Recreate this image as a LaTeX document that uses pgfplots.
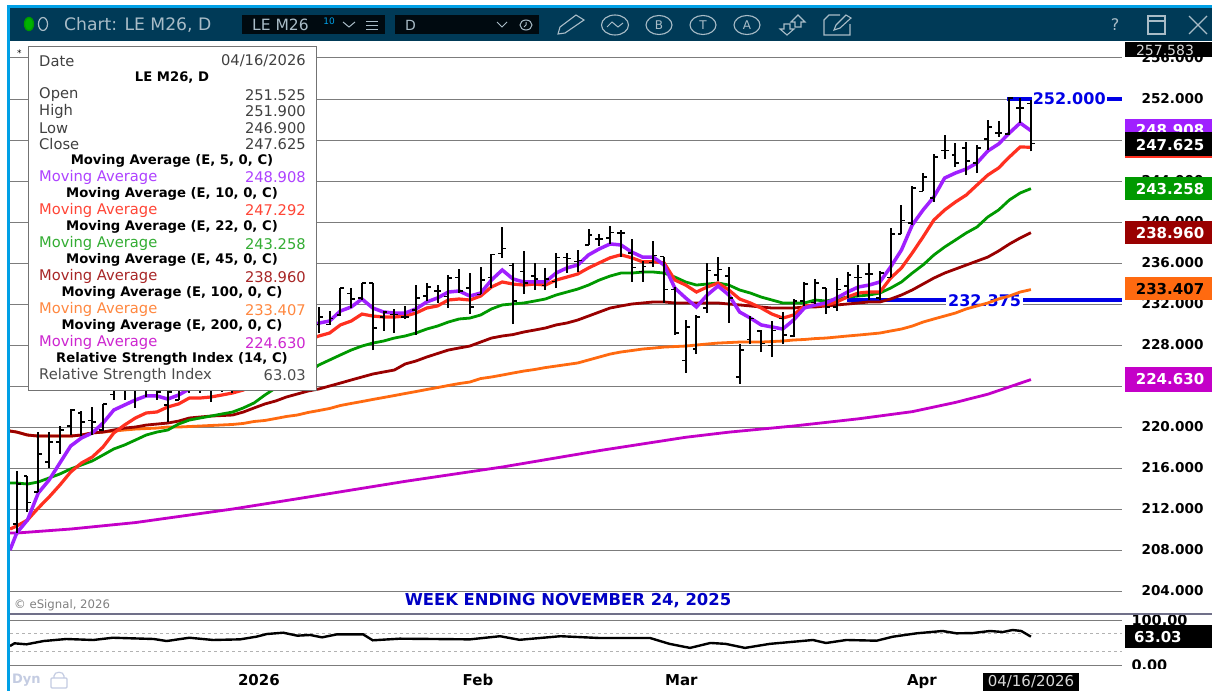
\documentclass[border=0pt]{standalone}
\usepackage{fontspec}
\setmainfont{DejaVu Sans}
\usepackage{pgfplots}
\usepackage{pgfplotstable}
\pgfplotsset{compat=1.18}
\definecolor{band}{HTML}{003A57}
\definecolor{bluebar}{HTML}{00A0E6}
\definecolor{iconc}{HTML}{A9BCC7}
\definecolor{mafive}{HTML}{A020FF}
\definecolor{maten}{HTML}{FF3020}
\definecolor{matw}{HTML}{009900}
\definecolor{mafort}{HTML}{990000}
\definecolor{mahun}{HTML}{FF6A10}
\definecolor{matwo}{HTML}{C400C8}
\definecolor{gridc}{HTML}{7C7C7C}
\definecolor{lineblue}{HTML}{0000E6}
\definecolor{dync}{HTML}{C4CCE2}
\pgfplotstableread{
i o h l c
0 210.54 215.74 209.66 214.44
1 215.22 215.22 211.71 212.68
2 213.66 219.51 213.66 217.37
3 216.59 219.51 216.00 218.54
4 218.54 220.10 217.37 219.71
5 220.10 221.76 219.22 221.66
6 221.37 221.56 219.12 220.49
7 220.68 221.95 219.22 220.49
8 219.71 222.25 219.61 222.25
9 223.13 225.07 222.64 224.59
10 224.10 224.78 222.64 224.20
11 223.61 224.98 221.86 224.39
12 224.39 225.37 222.93 224.98
13 224.59 225.07 222.64 223.42
14 222.15 224.10 220.49 223.42
15 222.64 225.37 222.64 224.78
16 224.10 225.76 223.32 225.37
17 225.07 225.96 223.32 224.10
18 223.61 225.56 222.44 225.07
19 224.59 226.54 223.42 226.05
20 225.56 227.03 223.32 226.54
21 226.05 228.00 224.59 227.51
22 227.31 228.50 225.37 228.00
23 228.00 228.99 226.05 228.50
24 228.50 229.48 226.54 228.99
25 228.99 230.26 227.31 229.66
26 229.48 230.86 228.00 230.26
27 230.46 231.44 228.99 230.95
28 229.96 231.71 229.17 230.73
29 229.96 231.32 229.96 230.63
30 230.93 233.56 230.83 233.56
31 233.07 233.56 231.61 232.49
32 232.59 234.05 232.39 234.05
33 234.05 234.05 227.51 229.66
34 230.73 231.32 229.37 231.22
35 231.02 231.52 229.17 231.02
36 230.73 231.82 230.54 230.73
37 231.42 233.86 228.98 232.59
38 232.78 234.05 232.29 233.66
39 233.27 233.86 232.10 233.27
40 232.69 234.83 231.61 234.54
41 234.63 235.42 233.07 233.27
42 233.56 235.03 231.02 231.71
43 232.97 235.62 232.97 234.34
44 234.63 236.90 233.56 236.80
45 236.90 239.51 236.51 237.39
46 235.73 236.02 230.05 232.29
47 235.13 237.17 232.97 234.05
48 234.73 236.02 233.37 234.44
49 233.85 235.53 233.37 234.44
50 234.24 236.98 233.56 236.51
51 236.51 236.98 235.03 236.41
52 236.12 237.27 235.13 236.22
53 237.76 239.32 237.76 238.73
54 238.34 238.83 237.66 238.34
55 238.44 239.61 237.85 239.02
56 238.93 239.22 236.59 238.93
57 236.98 238.34 234.15 235.53
58 235.13 236.22 234.15 235.62
59 236.02 238.15 235.62 236.70
60 236.60 236.60 232.10 233.46
61 233.46 233.66 228.98 229.17
62 226.45 230.44 225.28 229.76
63 227.61 230.93 227.12 230.73
64 231.61 236.02 231.12 235.24
65 234.83 236.60 234.24 235.33
66 234.73 235.62 230.15 232.59
67 224.88 228.09 224.20 227.51
68 228.57 230.83 228.09 230.63
69 229.37 229.46 227.31 228.19
70 227.92 230.34 226.83 229.46
71 230.63 231.22 228.09 228.98
72 228.88 232.49 228.78 232.29
73 232.29 234.15 231.82 233.95
74 232.11 234.44 232.01 234.05
75 233.56 233.56 231.02 231.71
76 231.71 234.54 231.31 233.46
77 233.76 235.13 232.59 234.83
78 234.63 235.82 232.69 234.63
79 234.93 236.02 232.39 234.93
80 232.59 235.24 232.39 235.03
81 234.63 239.41 234.63 238.83
82 238.83 241.66 238.83 240.19
83 239.90 243.51 239.71 243.32
84 243.02 244.78 243.02 244.39
85 242.34 246.63 241.95 246.34
86 247.02 248.49 246.15 247.02
87 246.54 247.71 245.37 245.76
88 247.22 247.80 244.58 245.95
89 245.76 247.51 244.78 247.22
90 248.10 249.95 247.02 249.27
91 248.68 249.85 248.29 248.68
92 248.59 252.20 248.49 252.10
93 251.12 252.10 249.66 251.12
94 251.525 251.90 246.90 247.625
}\ohlc
\pgfplotstableread{
i m5 m10 m22 m45 m100
-0.62 208.00 210.05 214.54 219.61 219.61
0 209.66 210.34 214.54 219.51 219.51
1 210.93 210.93 214.44 219.22 219.22
2 213.56 212.10 214.64 219.12 219.12
3 214.83 213.17 215.03 219.12 219.12
4 216.49 214.34 215.42 219.12 219.12
5 218.15 215.61 215.91 219.12 219.12
6 218.93 216.49 216.30 219.22 219.22
7 219.42 217.07 216.69 219.42 219.42
8 220.39 218.05 217.27 219.51 219.51
9 221.66 219.42 217.86 219.71 219.61
10 222.15 220.20 218.25 219.90 219.71
11 222.64 220.88 218.73 220.00 219.80
12 223.03 221.37 219.22 220.19 219.85
13 223.03 221.47 219.51 220.29 219.90
14 222.73 221.96 219.71 220.39 220.00
15 223.12 222.25 220.29 220.58 220.00
16 223.71 222.83 220.68 220.88 220.05
17 224.30 222.83 220.88 220.98 220.10
18 224.78 222.93 221.07 221.07 220.15
19 225.37 223.12 221.27 221.12 220.20
20 225.95 223.32 221.46 221.17 220.25
21 226.54 223.61 221.86 221.46 220.35
22 227.13 224.10 222.35 221.86 220.54
23 227.71 224.59 223.12 222.25 220.64
24 228.30 225.37 223.81 222.54 220.83
25 228.88 226.35 224.30 222.93 221.03
26 229.46 227.32 224.78 223.22 221.17
27 229.85 228.49 225.27 223.51 221.42
28 230.14 228.88 226.05 223.71 221.61
29 230.34 229.17 226.54 224.00 221.81
30 231.32 229.96 227.03 224.29 222.10
31 231.71 230.34 227.51 224.59 222.30
32 232.49 231.02 227.90 224.88 222.49
33 231.61 230.83 228.19 225.17 222.69
34 231.22 230.73 228.39 225.37 222.88
35 231.12 230.73 228.68 225.56 223.07
36 231.12 230.83 228.88 226.15 223.27
37 231.52 231.12 229.17 226.44 223.46
38 232.20 231.61 229.56 226.83 223.66
39 232.59 231.81 229.85 227.17 223.85
40 233.17 232.39 230.24 227.51 224.05
41 233.27 232.49 230.54 227.71 224.24
42 232.78 232.39 230.63 227.90 224.39
43 233.07 232.78 230.93 228.29 224.73
44 234.34 233.66 231.52 228.68 224.88
45 235.32 234.15 231.91 228.88 225.07
46 234.44 233.95 232.01 229.02 225.27
47 234.15 233.85 232.10 229.27 225.46
48 234.15 233.95 232.29 229.46 225.61
49 234.15 233.85 232.49 229.66 225.80
50 235.03 234.34 232.88 229.96 225.95
51 235.52 234.63 233.17 230.15 226.10
52 235.81 234.93 233.46 230.44 226.25
53 236.79 235.52 233.85 230.83 226.54
54 237.38 236.02 234.34 231.22 226.83
55 237.86 236.51 234.73 231.61 227.12
56 237.76 236.80 235.02 231.81 227.32
57 237.07 236.51 235.02 232.00 227.46
58 236.58 236.12 235.12 232.10 227.61
59 236.58 236.12 235.12 232.20 227.70
60 235.80 236.02 235.02 232.20 227.80
61 233.55 234.34 234.63 232.10 227.85
62 232.59 233.85 234.15 232.10 227.90
63 231.71 233.17 233.85 232.10 228.00
64 232.88 233.66 233.95 232.10 228.10
65 233.76 234.05 234.05 232.10 228.19
66 232.88 233.37 233.85 232.00 228.24
67 231.22 232.49 233.37 231.91 228.29
68 230.63 232.10 233.07 231.81 228.29
69 229.96 231.61 232.68 231.71 228.29
70 229.76 231.02 232.39 231.61 228.34
71 229.56 230.63 232.10 231.61 228.39
72 230.44 230.93 232.10 231.61 228.49
73 231.61 231.81 232.10 231.71 228.54
74 231.91 231.91 232.39 231.71 228.63
75 232.10 231.91 232.29 231.81 228.68
76 232.59 232.20 232.49 231.91 228.78
77 233.17 232.69 232.68 232.00 228.88
78 233.66 233.07 232.78 232.10 228.97
79 233.85 233.17 232.88 232.20 229.07
80 234.15 233.17 233.07 232.20 229.17
81 235.62 234.53 233.56 232.49 229.37
82 237.27 235.52 234.15 232.88 229.56
83 239.71 236.98 235.02 233.37 229.85
84 241.17 238.54 235.81 233.95 230.24
85 242.44 240.19 236.78 234.53 230.54
86 244.29 241.17 237.56 235.02 230.83
87 244.78 241.95 238.24 235.41 231.12
88 245.17 242.63 238.93 235.80 231.52
89 245.76 243.61 239.51 236.19 231.81
90 246.93 244.58 240.49 236.58 232.10
91 247.61 245.27 241.17 237.17 232.49
92 248.68 246.34 242.15 237.85 232.78
93 249.66 247.32 242.83 238.44 233.17
94 248.908 247.292 243.258 238.960 233.407
}\mas
\pgfplotstableread{
i r
-0.62 42.2
-0.2 48.2
0.9 46
2.5 53.3
4.6 57.8
7.1 55.6
8.9 60.6
12.7 57.8
13.9 53.3
16 60.6
18.2 55.6
20.7 57
22.2 62.9
23.2 68.9
24.7 71.8
26 65.2
27.2 66.7
28.3 61.5
29.7 68.2
32.1 68.2
33 54.9
35.5 58.5
37.8 58
42 57
44.8 64
46.6 56
50.4 64
54 60
58.7 60
60.5 47
62.4 38
64.3 49
65.7 47
67.5 38
69.8 47
72.6 53
73.8 55.6
75 48.9
76.9 55.6
79.7 54
81.2 62.9
83.4 70.4
85.8 75.6
87.1 70.4
88.6 71
90.2 75.6
91.4 73.3
92.3 77.8
93.1 75.6
94 63.03
}\rsi
\newcommand{\fs}[1]{\fontsize{#1}{#1}\selectfont}
\begin{document}
\begin{tikzpicture}[line cap=butt]
\useasboundingbox (0,0) rectangle (1212pt,-691pt);
\fill[white] (0,0) rectangle (1212pt,-691pt);
% main price pane
\begin{axis}[
  at={(10pt,-614pt)},anchor=south west,scale only axis,
  width=1112pt,height=572pt,
  xmin=-0.621,xmax=102.44,ymin=201.76,ymax=257.56,
  axis line style={draw=none},
  xtick=\empty,
  ytick={204,208,...,256},
  ymajorgrids,
  grid style={gridc,line width=1pt},
  tick style={draw=none},
  yticklabel pos=right,
  /pgf/number format/assume math mode=true,
  /pgf/number format/fixed,/pgf/number format/fixed zerofill,/pgf/number format/precision=3,
  yticklabel style={font=\fs{13.6}\bfseries,black,anchor=west,xshift=16pt},
  clip=true,
]
\addplot[lineblue,line width=3.5pt] coordinates {(76.97,232.375) (102.44,232.375)}
  node[pos=0.50,fill=white,inner xsep=2pt,inner ysep=0pt,font=\fs{16}\bfseries,text=lineblue] {232.375};
\addplot[lineblue,line width=3.5pt] coordinates {(91.8,252.0) (102.44,252.0)}
  node[pos=0.54,fill=white,inner xsep=1pt,inner ysep=0pt,font=\fs{16}\bfseries,text=lineblue] {252.000};
\addplot[mahun,line width=2.8pt] table[x=i,y=m100] {\mas};
\addplot[matwo,line width=2.8pt] coordinates {(-0.62,209.66) (0,209.66) (5,210.05) (11,210.68) (20,212.0) (26,213.0) (36,214.7) (45,216.1) (54,217.7) (62,219.0) (66,219.5) (72,220.1) (78,220.8) (83,221.5) (87,222.4) (90,223.2) (94,224.63)};
\addplot[mafort,line width=2.8pt] table[x=i,y=m45] {\mas};
\addplot[matw,line width=2.8pt] table[x=i,y=m22] {\mas};
\addplot[maten,line width=3.2pt] table[x=i,y=m10] {\mas};
\addplot[mafive,line width=3.5pt] table[x=i,y=m5] {\mas};
% OHLC bars: high-low stems, open ticks left, close ticks right
\addplot[draw=none,mark=none,error bars/.cd,y dir=plus,y explicit,error mark=none,error bar style={black,solid,line width=2pt}]
  table[x=i,y=l,y error plus expr=\thisrow{h}-\thisrow{l}] {\ohlc};
\addplot[draw=none,mark=none,error bars/.cd,x dir=minus,x explicit,error mark=none,error bar style={black,solid,line width=1.1pt}]
  table[x=i,y=o,x error minus expr=0.36] {\ohlc};
\addplot[draw=none,mark=none,error bars/.cd,x dir=plus,x explicit,error mark=none,error bar style={black,solid,line width=1.1pt}]
  table[x=i,y=c,x error plus expr=0.36] {\ohlc};
\end{axis}
% RSI pane
\begin{axis}[
  at={(10pt,-665pt)},anchor=south west,scale only axis,
  width=1112pt,height=45pt,
  xmin=-0.621,xmax=102.44,ymin=0,ymax=100,
  axis line style={draw=none},
  xtick={22.45,42.75,61.6,83.9},
  xticklabels={2026,Feb,Mar,Apr},
  ytick={0,100},
  ymajorgrids,
  grid style={gridc,line width=1pt},
  tick style={draw=none},
  yticklabel pos=right,
  /pgf/number format/assume math mode=true,
  /pgf/number format/fixed,/pgf/number format/fixed zerofill,/pgf/number format/precision=2,
  yticklabel style={font=\fs{14.5}\bfseries,black,anchor=west,xshift=6pt},
  xticklabel style={font=\fs{15}\bfseries,black,yshift=-6pt},
  clip=false,
]
\addplot[gray!60,dashed,line width=1pt,forget plot] coordinates {(-0.621,70) (102.44,70)};
\addplot[gray!60,dashed,line width=1pt,forget plot] coordinates {(-0.621,30) (102.44,30)};
\addplot[black,line width=2.4pt] table[x=i,y=r] {\rsi};
\end{axis}
% frame and overlays in image pixels
\begin{scope}[x=1pt,y=-1pt]
\fill[white] (1124,669) rectangle (1212,691);
\fill[bluebar] (7,5) rectangle (1212,8);
\fill[bluebar] (7,5) rectangle (10,691);
\fill[band] (10,8) rectangle (1212,41);
\fill[gridc!90!blue] (10,613) rectangle (1212,615);
% header
\draw[green!60!black,fill=green!70!black,line width=1.4pt] (29,24) ellipse (4.5 and 6.5);
\draw[iconc,line width=1.2pt] (43,24) ellipse (4.5 and 6.5);
\node[anchor=west,iconc,font=\fs{17.2},inner sep=0] at (64,24.5) {Chart: LE M26, D};
\fill[black!70!band!60!black] (242,15) rectangle (385,34);
\node[anchor=west,iconc,font=\fs{15.5},inner sep=0] at (252,25) {LE M26};
\node[anchor=center,bluebar,font=\fs{9},inner sep=0] at (329,21) {10};
\draw[iconc,line width=1pt] (343,22)--(349,27)--(355,22);
\draw[iconc,line width=1pt] (366,21)--(378,21) (366,25)--(378,25) (366,29)--(378,29);
\fill[black!70!band!60!black] (395,15) rectangle (539,34);
\node[anchor=west,iconc,font=\fs{14},inner sep=0] at (405,25) {D};
\draw[iconc,line width=1pt] (497,22)--(502,27)--(507,22);
\draw[iconc,line width=1pt] (526,25) ellipse (6 and 5);
\draw[iconc,line width=1pt] (526,22)--(526,25)--(524,27);
\draw[iconc,line width=1.1pt] (558,34)--(560,27)--(576,15)--(584,20)--(565,33)--cycle;
\draw[iconc,line width=1.1pt] (615,25) ellipse (13.5 and 10);
\draw[iconc,line width=1pt] (607,27)--(612,22)--(618,27)--(623,23);
\foreach \xx/\tl in {659/B,703/T,747/A}{
  \draw[iconc,line width=1.1pt] (\xx,25) ellipse (13 and 9.5);
  \node[iconc,font=\fs{12},inner sep=0] at (\xx,25) {\tl};
}
\draw[iconc,line width=1.1pt] (791,22)--(798,15)--(805,22)--(801,22)--(801,27)--(795,27)--(795,22)--cycle;
\draw[iconc,line width=1.1pt] (780,29)--(787,35)--(794,29)--(790,29)--(790,24)--(784,24)--(784,29)--cycle;
\draw[iconc,line width=1.1pt] (850,24)--(850,35)--(824,35)--(824,20)--(829,15)--(840,15);
\draw[iconc,line width=1.1pt] (834,30)--(836,25)--(846,15)--(851,18)--(840,28)--cycle;
\node[iconc,font=\fs{16},inner sep=0] at (1115,25) {?};
\draw[iconc,line width=1.2pt] (1148,16) rectangle (1165,34);
\draw[iconc,line width=1.2pt] (1148,21)--(1165,21);
\draw[iconc,line width=1.2pt] (1189,16)--(1207,34) (1207,16)--(1189,34);
% tooltip
\fill[gray!50] (29,47) rectangle (317,391);
\draw[gray!90!black,fill=white,line width=1pt] (28,46) rectangle (316,390);
\node[anchor=west,font=\fs{9},inner sep=0] at (17,53) {*};
\foreach \yy/\lt/\rt/\cc in {
 61/Date/{04/16/2026}/black!75,
 95/Open/251.525/black!75,
 111.5/High/251.900/black!75,
 128/Low/246.900/black!75,
 144.5/Close/247.625/black!75,
 177.6/Moving Average/248.908/mafive!85!white,
 210.6/Moving Average/247.292/maten!90!white,
 243.7/Moving Average/243.258/matw!80!white,
 276.8/Moving Average/238.960/mafort!85!white,
 309.8/Moving Average/233.407/mahun!80!white,
 342.9/Moving Average/224.630/matwo!85!white,
 375/Relative Strength Index/63.03/black!70}{
 \node[anchor=west,text=\cc,font=\fs{14.7},inner sep=0] at (39,\yy) {\lt};
 \node[anchor=east,text=\cc,font=\fs{14.7},inner sep=0] at (306,\yy) {\rt};
}
\foreach \yy/\lt in {
 78/{LE M26, D},
 161/{Moving Average (E, 5, 0, C)},
 194/{Moving Average (E, 10, 0, C)},
 227/{Moving Average (E, 22, 0, C)},
 260/{Moving Average (E, 45, 0, C)},
 293/{Moving Average (E, 100, 0, C)},
 326/{Moving Average (E, 200, 0, C)},
 358.5/{Relative Strength Index (14, C)}}{
 \node[font=\fs{13.2}\bfseries,inner sep=0] at (172,\yy) {\lt};
}
% value tags
\fill[black] (1125,42) rectangle (1212,57);
\node[white!85!black,font=\fs{14},inner sep=0] at (1165,50) {257.583};
\fill[mafive] (1125,119) rectangle (1212,133);
\node[white,font=\fs{15}\bfseries,inner sep=0] at (1170,130) {248.908};
\fill[maten] (1125,155) rectangle (1212,158);
\fill[black] (1125,132) rectangle (1212,156);
\node[white,font=\fs{15}\bfseries,inner sep=0] at (1170,145) {247.625};
\fill[matw] (1125,177) rectangle (1212,200);
\node[white,font=\fs{15}\bfseries,inner sep=0] at (1170,189) {243.258};
\fill[mafort] (1125,221) rectangle (1212,244);
\node[white,font=\fs{15}\bfseries,inner sep=0] at (1170,233) {238.960};
\fill[mahun] (1125,277) rectangle (1212,300);
\node[black,font=\fs{15}\bfseries,inner sep=0] at (1170,289) {233.407};
\fill[matwo] (1125,367) rectangle (1212,392);
\node[white,font=\fs{15}\bfseries,inner sep=0] at (1170,379) {224.630};
\fill[black] (1125,625) rectangle (1212,648);
\node[white,font=\fs{15}\bfseries,inner sep=0,anchor=west] at (1134,637) {63.03};
\fill[black] (983,673) rectangle (1079,691);
\node[white!85!black,font=\fs{15},inner sep=0] at (1031,682) {04/16/2026};
% notes
\node[lineblue!85!black,font=\fs{16.4}\bfseries,inner sep=0] at (568,601) {WEEK ENDING NOVEMBER 24, 2025};
\node[anchor=west,gray,font=\fs{11.7},inner sep=0] at (14,605.5) {\copyright{} eSignal, 2026};
\node[anchor=west,text=dync,font=\fs{13}\bfseries,inner sep=0] at (12,680) {Dyn};
\draw[dync,line width=1.2pt,rounded corners=1pt] (51,678) rectangle (67,688);
\draw[dync,line width=1.2pt] (54,678)--(54,676) .. controls (54,671) and (64,671) .. (64,676)--(64,678);
\end{scope}
\end{tikzpicture}
\end{document}
